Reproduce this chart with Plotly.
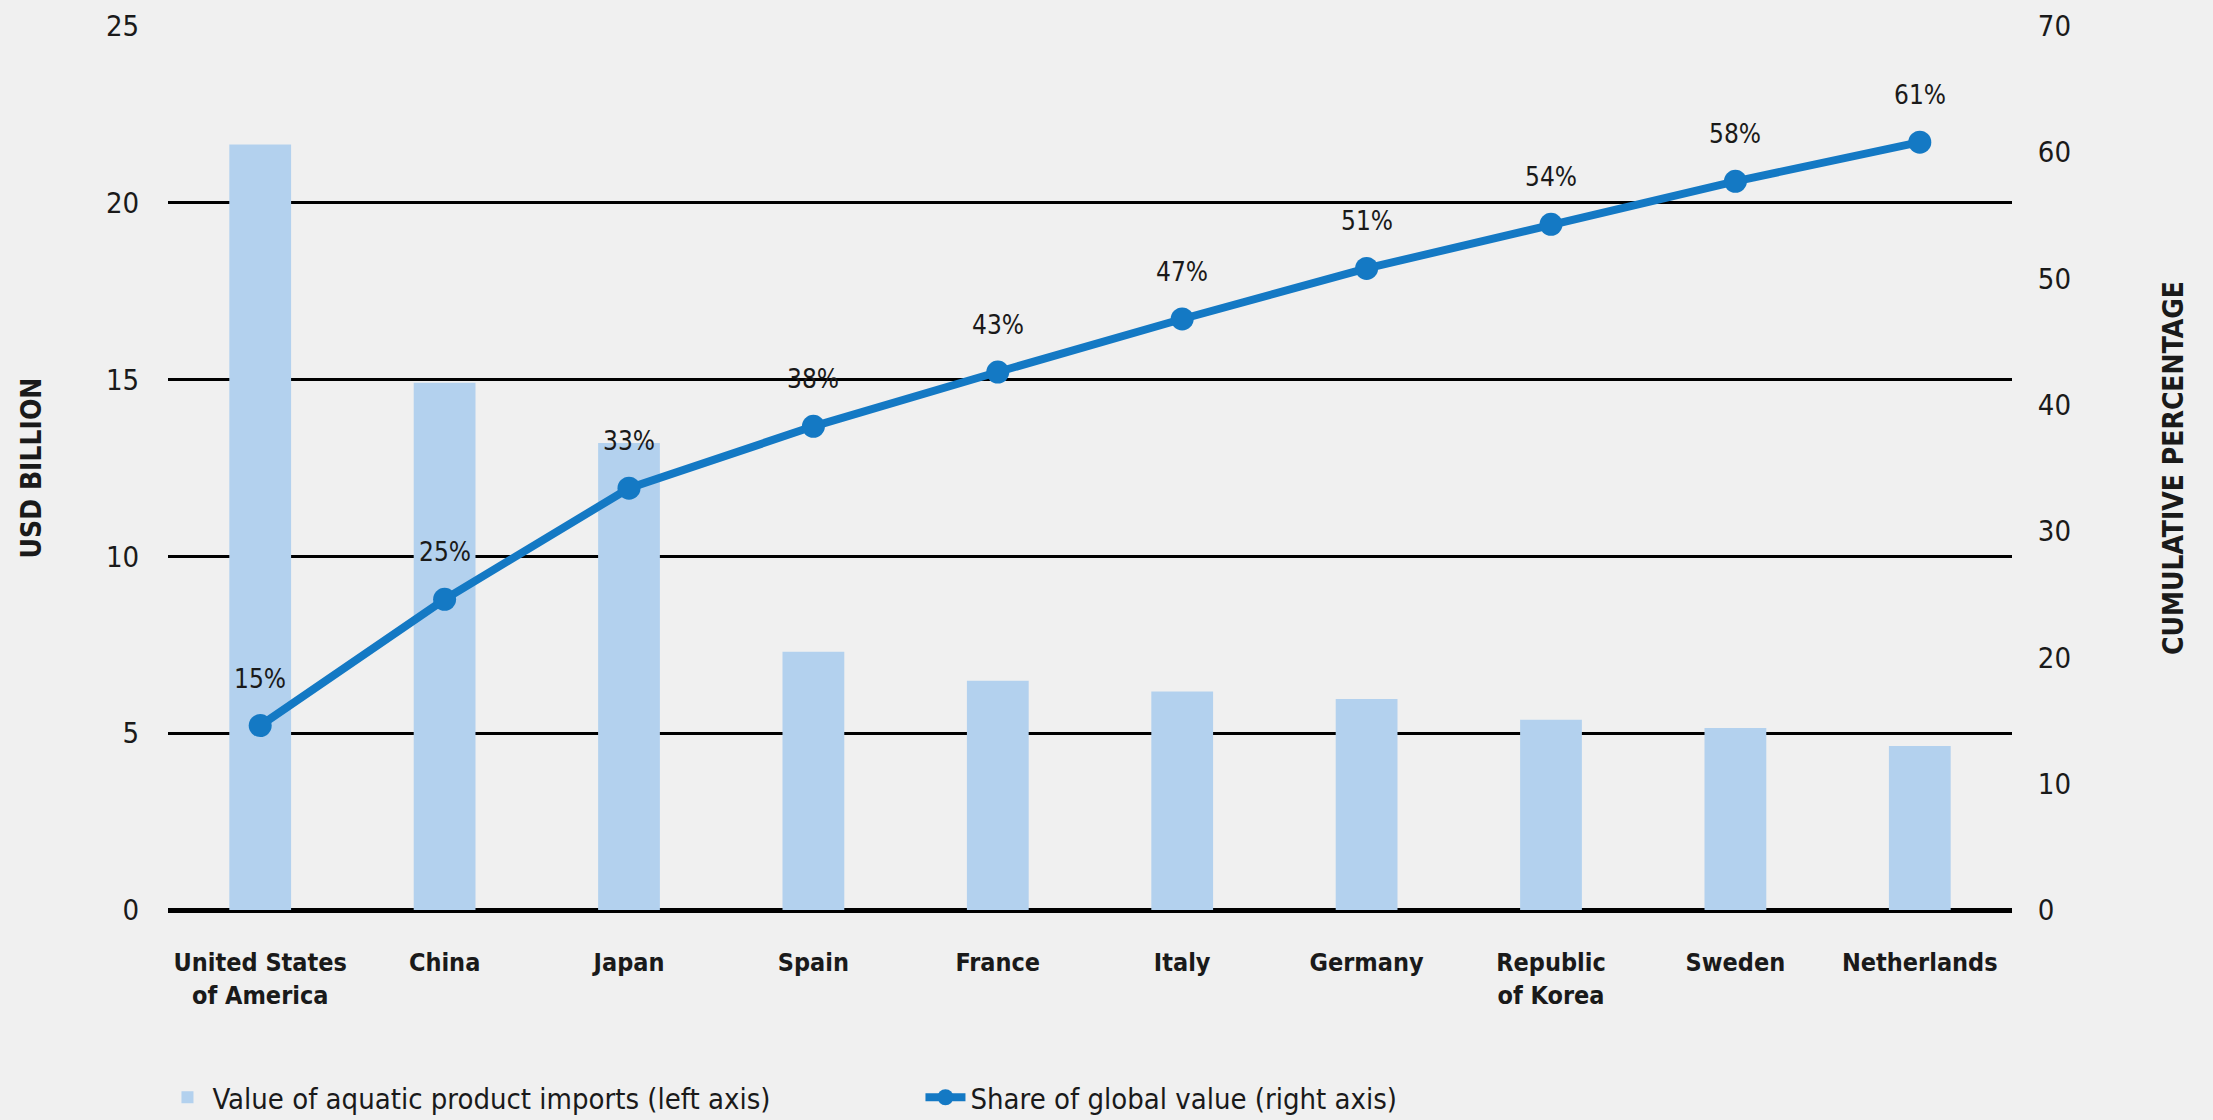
import plotly.graph_objects as go

# Top 10 importers of aquatic products
countries = ["United States<br>of America", "China", "Japan", "Spain", "France",
             "Italy", "Germany", "Republic<br>of Korea", "Sweden", "Netherlands"]
import_value_usd_bn = [21.65, 14.91, 13.21, 7.30, 6.48, 6.18, 5.97, 5.38, 5.15, 4.64]
cumulative_share_pct = [14.6, 24.6, 33.4, 38.3, 42.6, 46.8, 50.8, 54.3, 57.7, 60.8]
left_ticks = [0, 5, 10, 15, 20, 25]
right_ticks = [0, 10, 20, 30, 40, 50, 60, 70]

FONT = "DejaVu Sans Condensed, Liberation Sans Narrow, Arial Narrow, sans-serif"
BG = "#f0f0f0"
BAR_COLOR = "#b3d1ee"
LINE_COLOR = "#1479c4"
TEXT = "#1a1a1a"

fig = go.Figure()

fig.add_trace(go.Bar(
    x=countries, y=import_value_usd_bn,
    name="Value of aquatic product imports (left axis)",
    marker=dict(color=BAR_COLOR, line=dict(width=0)),
    width=0.335,
    yaxis="y",
))

fig.add_trace(go.Scatter(
    x=countries, y=cumulative_share_pct,
    name="Share of global value (right axis)",
    mode="lines+markers",
    line=dict(color=LINE_COLOR, width=8),
    marker=dict(color=LINE_COLOR, size=23),
    yaxis="y2",
))

# Percentage labels above each point
for c, v in zip(countries, cumulative_share_pct):
    fig.add_annotation(
        x=c, y=v, xref="x", yref="y2",
        text=f"{v:.0f}%", showarrow=False, yshift=47,
        font=dict(family=FONT, size=26, color=TEXT),
    )

fig.update_layout(
    width=2213, height=1120,
    margin=dict(l=168, r=201, t=26, b=210, autoexpand=False),
    paper_bgcolor=BG, plot_bgcolor=BG,
    font=dict(family=FONT, size=27, color=TEXT),
    bargap=0.665,
    showlegend=True,
    legend=dict(
        orientation="h", x=-0.003, y=-0.212, xanchor="left", yanchor="middle",
        font=dict(family=FONT, size=29, color=TEXT),
        bgcolor="rgba(0,0,0,0)", entrywidth=703, entrywidthmode="pixels",
        itemwidth=40, traceorder="normal",
    ),
    xaxis=dict(
        range=[-0.5, 9.5],
        showgrid=False, zeroline=False, showline=False,
        ticks="outside", ticklen=30, tickcolor="rgba(0,0,0,0)",
        tickfont=dict(family=FONT, size=25, color=TEXT, weight="bold"),
    ),
    yaxis=dict(
        range=[0, 25], tickvals=left_ticks,
        showgrid=True, gridcolor="#000000", gridwidth=2.5,
        zeroline=True, zerolinecolor="#000000", zerolinewidth=5,
        showline=False,
        ticks="outside", ticklen=22, tickcolor="rgba(0,0,0,0)",
        tickfont=dict(family=FONT, size=29, color=TEXT),
        title=dict(text="USD BILLION", standoff=56,
                   font=dict(family=FONT, size=28, color=TEXT, weight="bold")),
    ),
    yaxis2=dict(
        range=[0, 70], tickvals=right_ticks, overlaying="y", side="right",
        showgrid=False, zeroline=False, showline=False,
        ticks="outside", ticklen=19, tickcolor="rgba(0,0,0,0)",
        tickfont=dict(family=FONT, size=29, color=TEXT),
        title=dict(text="CUMULATIVE PERCENTAGE", standoff=93,
                   font=dict(family=FONT, size=28, color=TEXT, weight="bold")),
    ),
)

fig.write_html("out.html")
